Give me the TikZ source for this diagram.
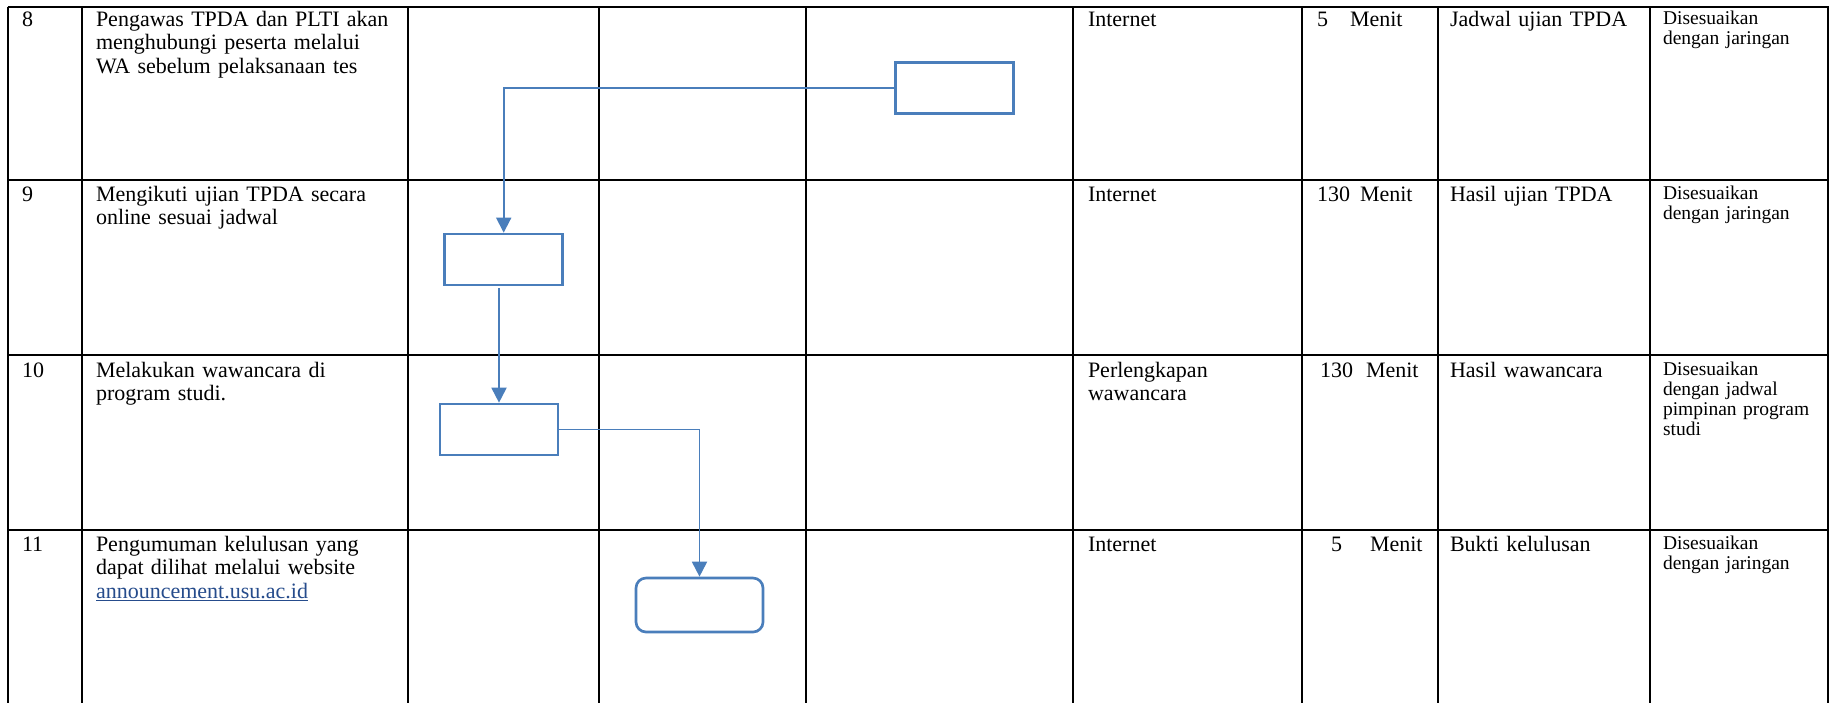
\documentclass[tikz,border=0pt]{standalone}
\usepackage{fontspec}
\setmainfont{Liberation Serif}[WordSpace=0.9]
\usetikzlibrary{arrows.meta}
\definecolor{flowblue}{RGB}{74,126,187}
\definecolor{linkblue}{RGB}{38,76,140}
\newcommand\fmain{\fontsize{13.2}{14.1}\selectfont}
\newcommand\fnote{\fontsize{11.7}{12}\selectfont}
\begin{document}
\begin{tikzpicture}[x=0.6pt,y=-0.6pt,
  grid/.style={line width=1.1pt,black},
  cell/.style={anchor=base west,inner sep=0pt,outer sep=0pt,align=left,font=\fmain,text width=#1},
  cell/.default=190pt,
  note/.style={anchor=base west,inner sep=0pt,outer sep=0pt,align=left,font=\fnote,text width=100pt},
  procbox/.style={draw=flowblue,line width=1.6pt,minimum width=70.8pt,minimum height=30.6pt,inner sep=0pt},
  endbox/.style={draw=flowblue,line width=1.6pt,minimum width=76.2pt,minimum height=32.4pt,inner sep=0pt,rounded corners=6pt},
  conn/.style={draw=flowblue,line width=1.1pt,-{Triangle[length=9pt,width=9pt]}}
]
\useasboundingbox (0,0) rectangle (1837,703);
\fill[white] (0,0) rectangle (1837,703);
% table grid
\foreach \x in {8,82,408,599,806,1073,1302,1438,1650,1828}
  \draw[grid] (\x,6.5) -- (\x,703);
\foreach \y in {7,180,355,530}
  \draw[grid] (7.5,\y) -- (1828.5,\y);
% row 8
\node[cell=30pt] (n8) at (22,26) {8};
\node[cell] (d8) at (96,26) {Pengawas TPDA dan PLTI akan\\ menghubungi peserta melalui\\ WA sebelum pelaksanaan tes};
\node[cell=120pt] (k8) at (1088,26) {Internet};
\node[cell=80pt] (w8) at (1317,26) {\makebox[19.8pt][l]{5}Menit};
\node[cell=120pt] (o8) at (1450,26) {Jadwal ujian TPDA};
\node[note] (c8) at (1663,24.5) {Disesuaikan\\ dengan jaringan};
% row 9
\node[cell=30pt] (n9) at (22,201) {9};
\node[cell] (d9) at (96,201) {Mengikuti ujian TPDA secara\\ online sesuai jadwal};
\node[cell=120pt] (k9) at (1088,201) {Internet};
\node[cell=80pt] (w9) at (1317,201) {\makebox[25.8pt][l]{130}Menit};
\node[cell=120pt] (o9) at (1450,201) {Hasil ujian TPDA};
\node[note] (c9) at (1663,199.5) {Disesuaikan\\ dengan jaringan};
% row 10
\node[cell=30pt] (n10) at (22,377) {10};
\node[cell] (d10) at (96,377) {Melakukan wawancara di\\ program studi.};
\node[cell=120pt] (k10) at (1088,377) {Perlengkapan\\ wawancara};
\node[cell=80pt] (w10) at (1320,377) {\makebox[27.6pt][l]{130}Menit};
\node[cell=120pt] (o10) at (1450,377) {Hasil wawancara};
\node[note] (c10) at (1663,375.5) {Disesuaikan\\ dengan jadwal\\ pimpinan program\\ studi};
% row 11
\node[cell=30pt] (n11) at (22,551) {11};
\node[cell] (d11) at (96,551) {Pengumuman kelulusan yang\\ dapat dilihat melalui website\\ \textcolor{linkblue}{\underline{announcement.usu.ac.id}}};
\node[cell=120pt] (k11) at (1088,551) {Internet};
\node[cell=80pt] (w11) at (1331,551) {\makebox[23.4pt][l]{5}Menit};
\node[cell=120pt] (o11) at (1450,551) {Bukti kelulusan};
\node[note] (c11) at (1663,549.5) {Disesuaikan\\ dengan jaringan};
% flow boxes
\node[procbox] (A) at (954.5,87.7) {};
\node[procbox] (B) at (503.7,259.5) {};
\node[procbox] (C) at (499,429.5) {};
\node[endbox] (D) at (699.5,605) {};
% connectors
\draw[conn] (A.west) -| (B.north);
\draw[conn] ([yshift=-1.2pt]C.north |- B.south) -- (C.north);
\draw[conn] (C.east) -| (D.north);
\end{tikzpicture}
\end{document}
